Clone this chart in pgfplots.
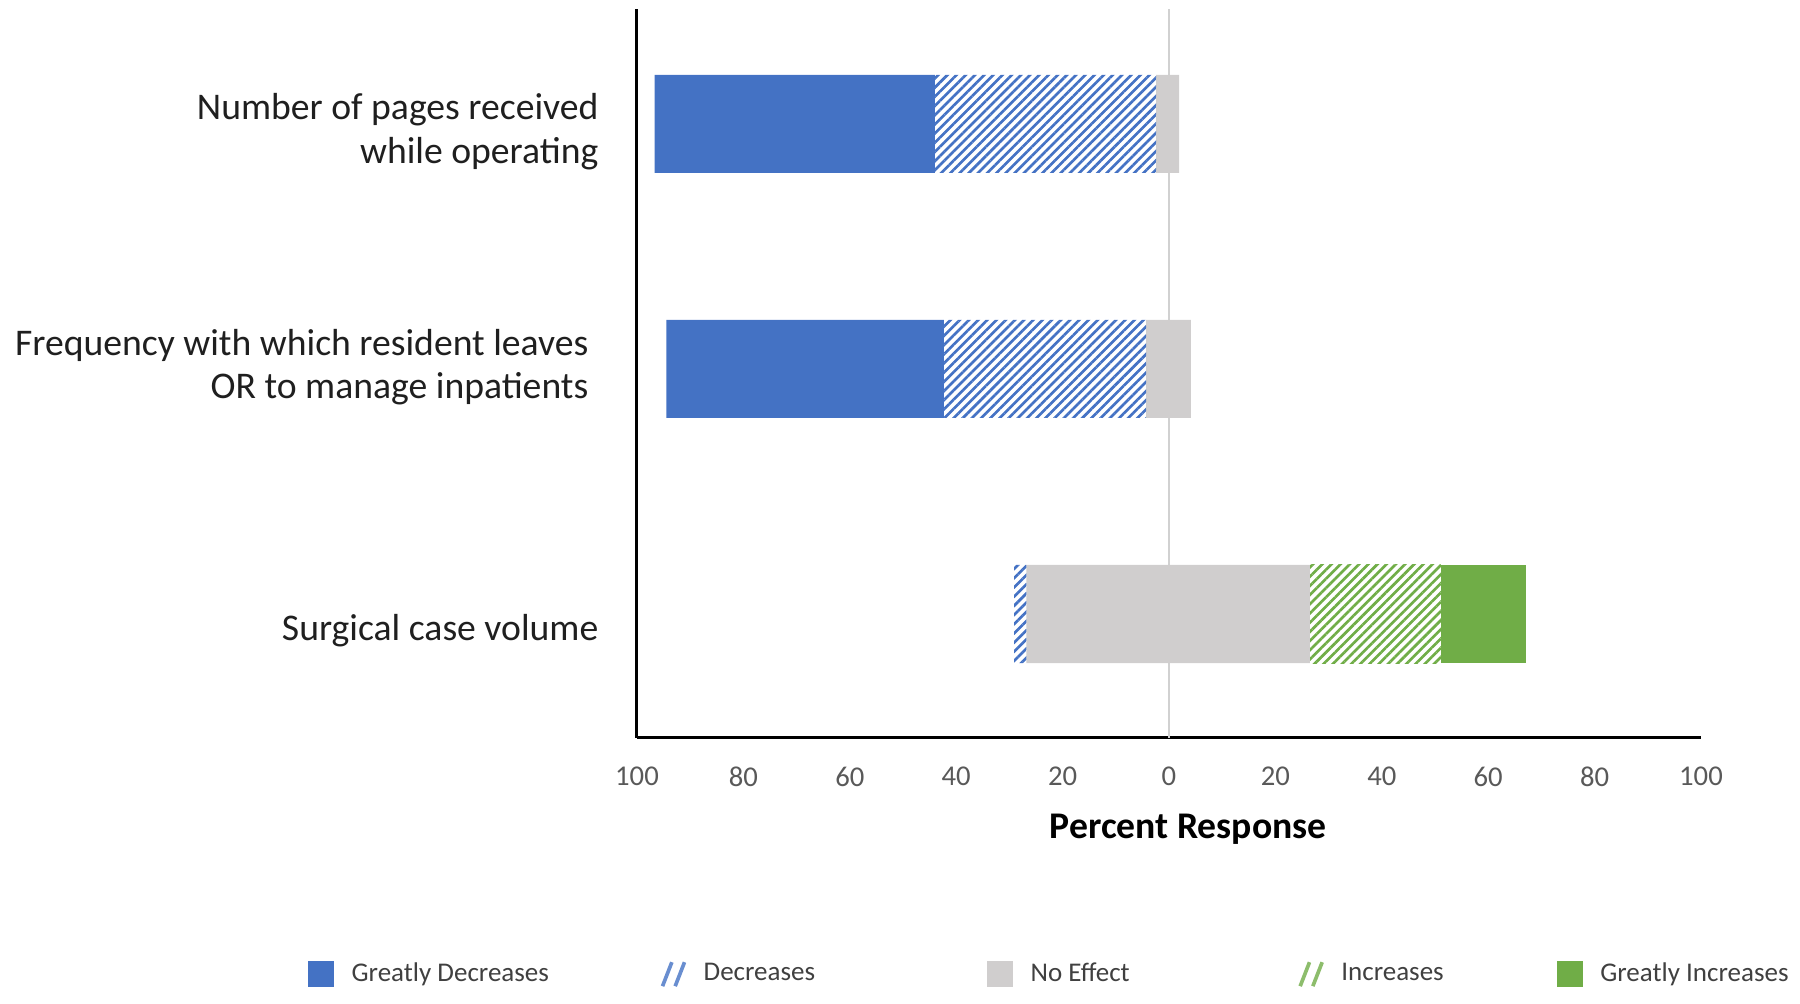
\documentclass[border=0pt]{standalone}
\usepackage{fontspec}
\setmainfont{Carlito}
\usepackage{pgfplots}
\pgfplotsset{compat=1.18}
\usetikzlibrary{patterns.meta}

\definecolor{gdblue}{HTML}{4472C4}
\definecolor{negray}{HTML}{D0CECE}
\definecolor{gigreen}{HTML}{70AD47}
\definecolor{ticktxt}{HTML}{595959}
\definecolor{legtxt}{HTML}{404040}

\begin{document}
\begin{tikzpicture}
\path[use as bounding box] (-191.1pt,-79.8pt) rectangle (348.9pt,221.4pt);
\begin{axis}[
  scale only axis,
  width=319.2pt, height=218.7pt,
  xbar stacked, stack negative=on previous, bar width=0.4,
  xmin=-100, xmax=100,
  ymin=-0.506, ymax=2.469,
  axis x line=bottom, axis y line=left,
  axis line style={-, black, line width=0.9pt},
  major tick length=0pt,
  xtick={-100,-80,...,100},
  xticklabel={\pgfmathparse{abs(\tick)}\pgfmathprintnumber{\pgfmathresult}},
  /pgf/number format/assume math mode=true,
  xticklabel style={font=\fontsize{8.6}{10}\selectfont, text=ticktxt, inner sep=0pt, anchor=north, yshift=-8.4pt},
  extra x ticks={0}, extra x tick labels={},
  extra x tick style={grid=major, major grid style={draw=black!18, line width=0.5pt}},
  % label positions nudged to where the original puts them
  ytick={-0.07,1.007,1.967},
  yticklabels={{Surgical case volume},
               {Frequency with which resident leaves\kern3pt\\OR to manage inpatients\kern3pt},
               {Number of pages received\\while operating}},
  yticklabel style={font=\fontsize{11.3}{13.1}\selectfont, text=black!88, align=right, inner sep=0pt, xshift=-11.4pt},
  xlabel={\textbf{Percent Response}},
  xlabel style={font=\fontsize{11.3}{13}\selectfont, at={(axis description cs:0.518,0)}, anchor=north, inner sep=0pt, yshift=-22.5pt},
  legend columns=5,
  legend style={at={(-0.3095,-0.324)}, anchor=west, draw=none, fill=none, inner sep=0pt,
    nodes={inner sep=0pt, font=\fontsize{8.1}{9.5}\selectfont, text=legtxt},
    cells={anchor=west},
    /tikz/every odd column/.style={column sep=5.2pt},
    /tikz/every even column/.style={column sep=0pt}},
]
% invisible offset so that No Effect is centred on 0
\addplot[draw=none, fill=none, forget plot] coordinates {(-29.1,0) (-94.5,1) (-96.7,2)};
% Greatly Decreases
\addplot[draw=none, fill=gdblue,
  legend image code/.code={\fill[gdblue] (0pt,-3.9pt) rectangle (7.8pt,3.9pt);}]
  coordinates {(0,0) (52.2,1) (52.7,2)};
\addlegendentry{\makebox[92.7pt][l]{Greatly Decreases}}
% Decreases
\addplot[draw=none, pattern={Lines[angle=45,distance=1.95pt,line width=0.8pt]}, pattern color=gdblue,
  legend image code/.code={
    \draw[fill=none, gdblue!80, line width=1.1pt] (0.6pt,-3.6pt) -- (3.4pt,3.6pt) (4.4pt,-3.6pt) -- (7.2pt,3.6pt);}]
  coordinates {(2.3,0) (38.0,1) (41.6,2)};
\addlegendentry{\makebox[85.1pt][l]{Decreases}}
% No Effect
\addplot[draw=none, fill=negray,
  legend image code/.code={\fill[negray] (0pt,-3.9pt) rectangle (7.8pt,3.9pt);}]
  coordinates {(53.3,0) (8.4,1) (4.3,2)};
\addlegendentry{\makebox[80.3pt][l]{No Effect}}
% Increases
\addplot[draw=none, pattern={Lines[angle=45,distance=1.95pt,line width=0.8pt]}, pattern color=gigreen,
  legend image code/.code={
    \draw[fill=none, gigreen!80, line width=1.1pt] (0.6pt,-3.6pt) -- (3.4pt,3.6pt) (4.4pt,-3.6pt) -- (7.2pt,3.6pt);}]
  coordinates {(24.6,0) (0,1) (0,2)};
\addlegendentry{\makebox[64.7pt][l]{Increases}}
% Greatly Increases
\addplot[draw=none, fill=gigreen,
  legend image code/.code={\fill[gigreen] (0pt,-3.9pt) rectangle (7.8pt,3.9pt);}]
  coordinates {(16.0,0) (0,1) (0,2)};
\addlegendentry{Greatly Increases}
\end{axis}
\end{tikzpicture}
\end{document}
